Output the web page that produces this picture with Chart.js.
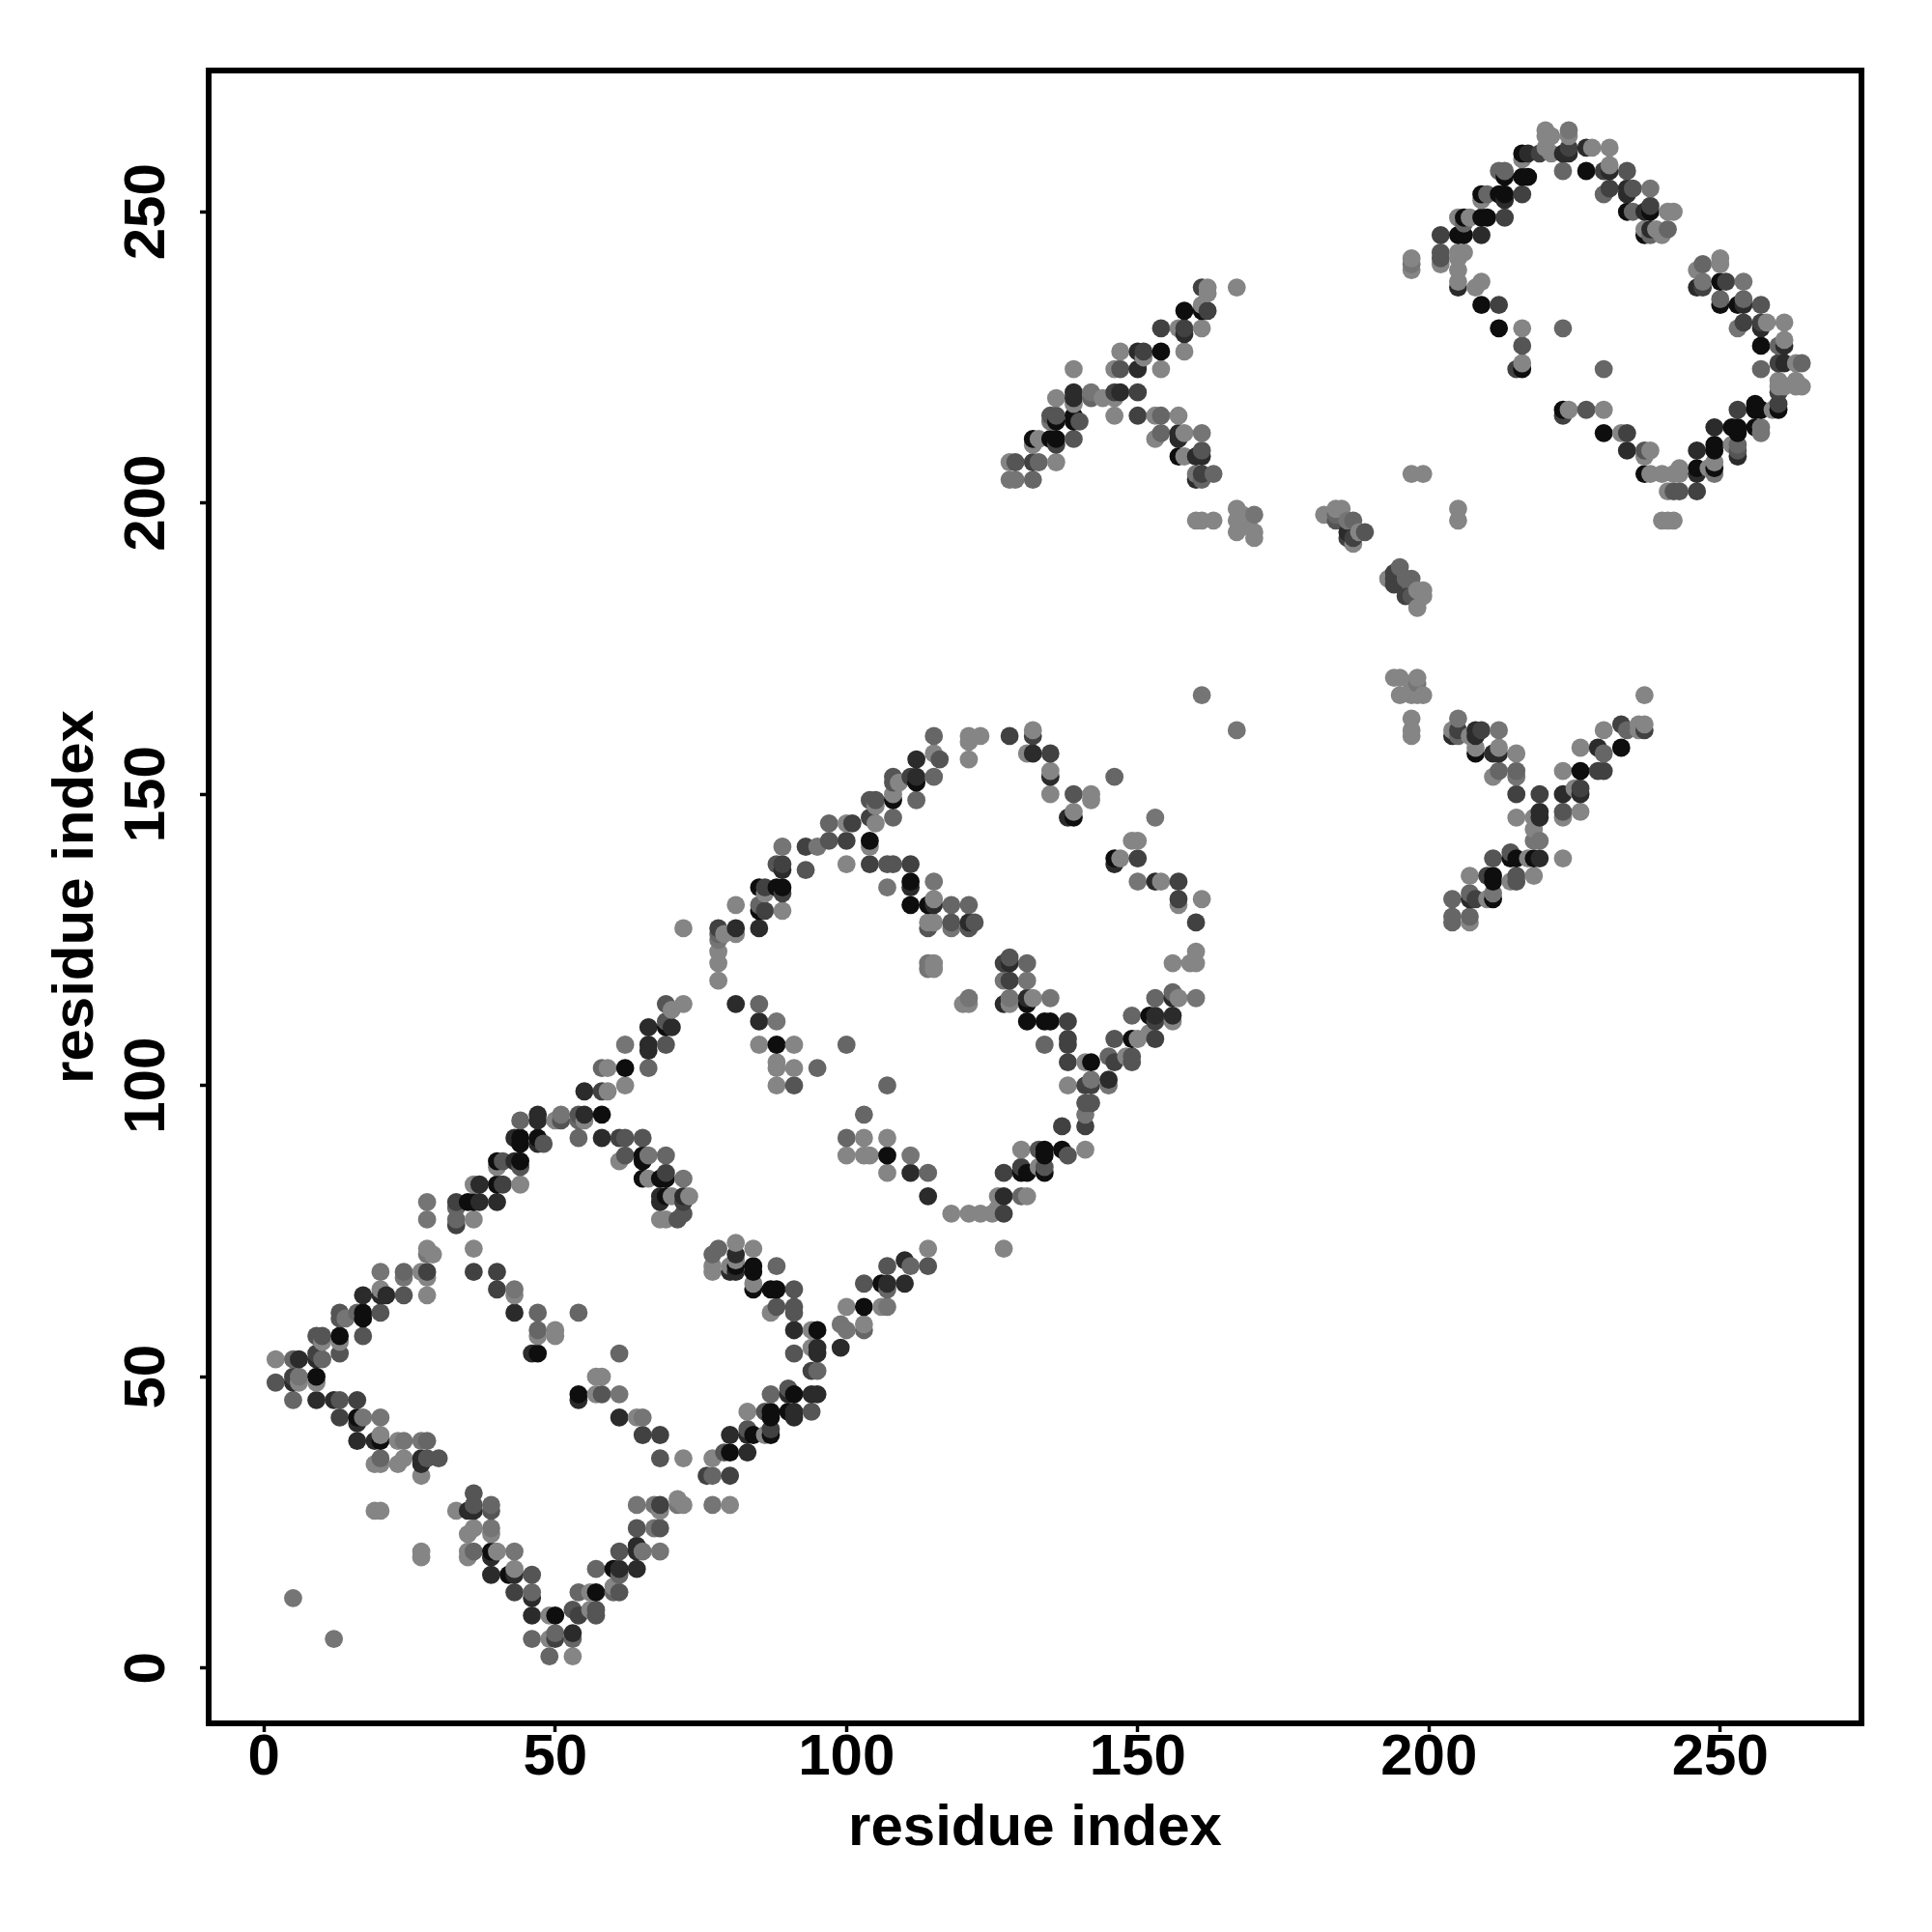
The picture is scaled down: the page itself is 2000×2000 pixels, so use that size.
<!DOCTYPE html>
<html>
<head>
<meta charset="utf-8">
<title>residue contact map</title>
<script src="https://cdn.jsdelivr.net/npm/chart.js@4"></script>
<style>
  html, body { margin: 0; padding: 0; background: #fff; }
  canvas { display: block; }
</style>
</head>
<body>
<canvas id="contactMap" width="2000" height="2000"></canvas>
<script>
// contacts as [residue x, residue y], one list per grey level
const contactsBlack = [
  [50,9],[57,13],[42,16],[60,17],[39,20],[20,39],[16,43],[9,50],[13,57],[17,61],[17,60],[54,47],[47,54],
  [62,103],[88,107],[69,110],[107,88],[106,66],[103,62],[131,114],[131,111],[134,111],[135,111],[137,89],
  [134,89],[134,88],[134,85],[130,85],[131,85],[69,84],[68,84],[65,84],[65,87],[65,88],[69,81],
  [81,69],[84,69],[84,68],[84,65],[87,65],[88,65],[95,58],[91,47],[87,44],[90,44],[87,43],[87,40],[84,40],
  [146,139],[139,146],[108,149],[112,152],[111,135],[111,131],[114,131],[85,130],[85,134],[88,134],[89,134],
  [104,142],[149,108],[142,104],[152,112],[158,233],[161,233],[154,226],[136,214],[139,215],[139,214],
  [132,211],[135,211],[136,211],[157,208],[208,157],[226,154],[233,158],[215,139],[214,139],[218,139],
  [211,136],[211,135],[211,132],[212,230],[209,234],[216,223],[223,216],[230,212],[237,205],[249,206],
  [249,210],[249,209],[252,213],[253,213],[253,212],[256,213],[256,217],[256,216],[257,216],[260,216],
  [246,206],[250,234],[253,234],[257,227],[250,238],[234,250],[238,250],[237,246],[227,257],[216,260],
  [213,256],[216,256],[217,256],[209,253],[212,253],[213,253],[206,249],[209,249],[210,249],[205,246],
  [206,246],[40,83],[40,87],[44,87],[44,91],[44,90],[47,91],[58,95],[35,80],[36,80],[80,37]
];
const contactsDark = [
  [53,6],[46,9],[46,12],[39,16],[43,16],[61,17],[64,17],[39,19],[64,21],[64,20],[35,27],[36,27],[27,35],
  [27,36],[16,39],[19,39],[16,42],[9,46],[12,46],[5,49],[6,53],[9,53],[17,64],[20,64],[21,64],[43,61],
  [46,54],[54,46],[61,43],[81,114],[85,111],[111,85],[114,81],[127,81],[110,70],[110,66],[107,66],
  [66,107],[66,106],[66,110],[70,110],[99,55],[95,55],[95,54],[94,47],[95,47],[80,68],[81,68],[81,71],
  [91,58],[68,81],[68,80],[72,81],[90,47],[132,157],[135,153],[138,146],[146,138],[112,153],[112,156],
  [81,127],[89,137],[145,101],[156,112],[153,112],[153,135],[115,131],[121,128],[150,226],[147,219],
  [139,219],[139,218],[150,223],[158,229],[160,204],[157,212],[157,211],[160,208],[161,208],[186,195],
  [208,161],[208,160],[207,132],[219,139],[219,147],[219,146],[223,150],[226,150],[229,158],[204,160],
  [211,157],[212,157],[205,237],[246,209],[246,205],[249,213],[209,246],[234,209],[231,257],[234,253],
  [234,254],[254,234],[246,237],[213,252],[223,260],[224,260],[227,261],[261,224],[253,208],[257,230],
  [261,227],[217,260],[37,83],[37,80],[43,87],[43,91],[47,95],[47,94],[47,90],[55,95],[55,99],[58,91],
  [40,80],[80,40],[83,37],[83,40],[91,43],[91,44],[111,134],[85,127],[128,121],[131,115],[127,114],
  [238,247],[237,250],[156,115]
];
const contactsDeep = [
  [50,5],[54,9],[43,13],[13,43],[16,46],[5,50],[9,54],[28,68],[36,68],[40,68],[40,65],[65,40],[68,40],
  [68,28],[76,33],[69,85],[127,78],[127,85],[130,86],[138,111],[138,108],[138,107],[137,93],[138,104],
  [72,80],[94,51],[128,118],[78,127],[86,130],[86,134],[89,133],[89,138],[93,141],[101,145],[100,142],
  [104,138],[111,138],[128,160],[132,160],[135,157],[150,139],[157,135],[157,132],[160,128],[146,104],
  [153,111],[153,108],[142,100],[141,100],[141,93],[104,146],[111,153],[161,237],[154,230],[158,230],
  [151,226],[162,233],[146,219],[150,219],[150,215],[132,207],[136,210],[161,205],[187,194],[194,188],
  [194,186],[205,161],[215,150],[219,150],[226,151],[229,154],[230,154],[233,162],[237,161],[210,136],
  [208,132],[202,246],[212,234],[216,253],[213,249],[215,223],[223,215],[234,212],[246,202],[253,216],
  [260,217],[260,219],[260,224],[254,231],[257,231],[231,254],[238,251],[247,237],[251,238],[230,257],
  [219,260],[33,80],[33,76],[41,83],[87,41],[80,33],[58,99],[61,91],[127,121],[186,194],[194,187],
  [196,184],[224,261],[209,161]
];
const contactsMid = [
  [53,10],[57,10],[57,9],[61,13],[46,16],[61,20],[64,24],[68,24],[36,28],[36,30],[39,27],[68,36],[28,36],
  [30,36],[13,46],[2,49],[13,54],[9,57],[10,57],[17,57],[13,61],[13,60],[20,61],[24,64],[58,47],[62,91],
  [65,91],[62,88],[91,100],[69,107],[69,114],[114,69],[107,69],[103,66],[88,62],[91,62],[91,61],[91,65],
  [91,54],[133,89],[138,88],[134,86],[71,77],[72,78],[86,44],[90,48],[94,44],[88,138],[93,137],[97,142],
  [105,149],[104,149],[108,153],[108,152],[107,138],[108,138],[114,127],[118,128],[139,150],[146,108],
  [142,97],[141,97],[149,105],[149,104],[116,156],[122,128],[121,127],[129,207],[139,211],[135,215],
  [136,215],[140,214],[147,223],[161,209],[184,197],[197,184],[214,140],[211,139],[215,136],[215,135],
  [223,147],[202,243],[202,242],[216,227],[227,216],[237,209],[242,202],[243,202],[253,209],[257,234],
  [235,254],[234,257],[54,95],[51,94],[41,87],[44,86],[48,90],[79,37],[83,41],[189,195],[128,122],[69,111]
];
const contactsGrey = [
  [49,2],[46,5],[50,6],[53,5],[46,13],[54,13],[60,13],[57,17],[61,16],[36,20],[39,28],[77,33],[20,36],
  [28,39],[5,46],[5,53],[10,53],[16,61],[24,68],[47,61],[54,61],[47,58],[61,54],[85,114],[66,103],[95,103],
  [100,107],[107,100],[103,95],[100,91],[69,88],[114,85],[111,69],[107,65],[103,58],[131,121],[130,81],
  [134,107],[77,71],[78,72],[88,69],[87,47],[95,51],[115,160],[146,153],[112,149],[108,146],[115,153],
  [97,145],[85,131],[118,131],[121,131],[156,116],[153,115],[149,112],[145,105],[154,215],[154,212],
  [133,207],[142,218],[132,204],[161,204],[163,205],[195,189],[197,187],[204,132],[204,129],[204,128],
  [207,133],[207,129],[212,154],[215,154],[205,160],[234,161],[230,157],[223,230],[230,223],[257,223],
  [264,224],[212,257],[213,257],[210,253],[206,248],[223,257],[230,253],[253,210],[260,227],[250,235],
  [254,235],[241,247],[238,246],[247,241],[44,94],[54,94],[54,91],[33,79],[33,77],[58,103],[184,198],
  [187,197],[196,187],[235,250],[78,126]
];
const contactsSoft = [
  [5,12],[12,5],[43,20],[65,20],[68,20],[39,24],[67,24],[64,28],[67,28],[71,28],[77,28],[24,39],[27,39],
  [17,43],[20,43],[6,50],[14,60],[20,68],[24,67],[28,71],[43,65],[61,47],[65,43],[88,111],[111,88],[62,107],
  [66,88],[72,84],[99,59],[100,58],[107,62],[128,115],[127,118],[131,118],[135,115],[121,115],[107,134],
  [115,135],[118,127],[114,121],[114,120],[153,146],[150,135],[160,115],[145,100],[141,95],[142,101],[89,141],
  [95,141],[78,125],[142,219],[128,204],[129,204],[135,214],[160,205],[161,212],[170,198],[205,163],[212,161],
  [219,142],[218,142],[198,169],[215,153],[197,241],[257,213],[257,212],[253,230],[238,254],[247,238],[254,238],
  [28,80],[28,77],[51,95],[211,133],[249,205],[161,167],[167,161],[186,197],[224,264]
];
const contactsLight = [
  [53,2],[49,5],[49,9],[56,10],[56,13],[60,14],[43,17],[35,19],[35,20],[40,20],[27,20],[27,19],[35,23],[36,24],
  [39,23],[33,27],[68,27],[71,29],[72,28],[80,28],[77,36],[72,36],[19,27],[20,27],[27,33],[19,35],[20,35],[23,35],
  [24,36],[20,40],[23,39],[6,49],[9,49],[2,53],[10,56],[13,56],[20,65],[28,64],[27,68],[28,67],[29,71],[28,72],
  [36,72],[43,64],[47,57],[50,58],[50,57],[57,50],[58,50],[57,47],[64,43],[78,118],[72,114],[70,113],[85,107],
  [91,107],[88,104],[88,103],[91,103],[88,100],[62,100],[103,91],[107,91],[100,88],[103,88],[104,88],[107,85],
  [118,78],[121,78],[123,78],[125,78],[126,81],[126,79],[114,72],[127,72],[100,62],[106,62],[103,59],[130,89],
  [133,86],[131,81],[141,89],[138,100],[132,115],[128,114],[120,114],[121,114],[115,120],[81,73],[81,70],[77,69],
  [77,68],[80,69],[84,72],[84,66],[94,58],[94,55],[86,40],[87,61],[83,44],[66,84],[73,81],[68,77],[69,77],[70,81],
  [72,127],[79,126],[81,126],[78,123],[78,121],[81,131],[89,130],[86,133],[121,160],[121,159],[123,160],[121,156],
  [132,161],[131,157],[135,154],[135,150],[142,150],[142,149],[139,147],[149,142],[150,142],[147,139],[154,135],
  [157,131],[161,132],[160,123],[156,121],[159,121],[160,121],[157,115],[156,111],[150,108],[152,109],[141,104],
  [148,105],[115,157],[115,132],[114,128],[115,128],[115,121],[100,145],[105,145],[100,138],[104,141],[108,150],
  [109,152],[105,148],[167,237],[162,237],[162,236],[161,234],[157,230],[161,230],[147,226],[151,225],[158,226],
  [139,223],[146,223],[154,223],[136,218],[144,218],[146,218],[139,217],[146,215],[153,215],[157,215],[133,211],
  [132,210],[153,211],[158,212],[158,208],[128,207],[136,207],[160,197],[161,197],[163,197],[167,199],[167,197],
  [167,195],[168,198],[170,195],[170,194],[168,196],[182,198],[184,199],[185,199],[187,193],[188,195],[197,205],
  [199,205],[205,199],[205,197],[197,240],[197,242],[193,187],[199,185],[199,184],[198,185],[198,182],[194,170],
  [195,170],[198,170],[195,167],[197,167],[197,169],[199,167],[198,167],[197,163],[197,161],[197,160],[204,161],
  [207,160],[208,158],[212,158],[215,157],[211,153],[225,151],[215,146],[218,146],[226,147],[218,144],[223,146],
  [223,139],[217,139],[218,136],[214,135],[207,136],[207,128],[210,132],[223,154],[226,158],[230,161],[236,162],
  [237,162],[236,161],[237,167],[202,241],[205,243],[206,243],[205,242],[205,240],[205,238],[208,237],[209,238],
  [216,230],[216,224],[224,216],[230,216],[233,212],[238,209],[237,208],[238,205],[240,205],[242,205],[243,206],
  [243,205],[241,202],[249,207],[248,206],[252,210],[259,216],[260,220],[260,221],[261,220],[263,221],[264,220],
  [263,220],[263,224],[261,228],[258,231],[261,231],[246,240],[250,242],[250,241],[237,247],[239,247],[240,246],
  [241,250],[242,250],[231,258],[228,261],[231,261],[224,263],[220,264],[220,263],[221,263],[220,261],[221,260],
  [216,259],[209,252],[205,249],[207,249],[241,197],[240,197],[242,197],[36,77],[36,83],[44,83],[40,86],[50,94],
  [55,94],[59,99],[61,87],[59,103]
];

const axisTicks = [0, 50, 100, 150, 200, 250];
const axisTitle = 'residue index';

const greyLevels = [
  { points: contactsBlack, color: '#0e0e0e' },
  { points: contactsDark, color: '#2b2b2b' },
  { points: contactsDeep, color: '#414141' },
  { points: contactsMid, color: '#555555' },
  { points: contactsGrey, color: '#666666' },
  { points: contactsSoft, color: '#757575' },
  { points: contactsLight, color: '#858585' }
];

// the original plots in residue order, so later residues sit on top
const allContacts = [];
greyLevels.forEach(function (level) {
  level.points.forEach(function (p) {
    allContacts.push({ x: p[0], y: p[1], color: level.color });
  });
});
allContacts.sort(function (a, b) { return a.x - b.x || a.y - b.y; });

const fontFamily = '"Liberation Sans", Arial, sans-serif';

// box round the plot, all four sides
const framePlugin = {
  id: 'frame',
  afterDatasetsDraw(chart) {
    const { ctx, chartArea: a } = chart;
    ctx.save();
    ctx.strokeStyle = '#000';
    ctx.lineWidth = 6;
    ctx.lineJoin = 'miter';
    ctx.strokeRect(a.left, a.top, a.right - a.left, a.bottom - a.top);
    ctx.restore();
  }
};

function fixedTicks(scale) {
  scale.ticks = axisTicks.map(function (v) { return { value: v }; });
}

const gridOptions = {
  drawOnChartArea: false,
  drawTicks: true,
  tickLength: 9,
  tickWidth: 3.5,
  tickColor: '#000'
};

new Chart(document.getElementById('contactMap').getContext('2d'), {
  type: 'scatter',
  data: {
    datasets: [{
      label: 'contacts',
      data: allContacts.map(function (c) { return { x: c.x, y: c.y }; }),
      pointBackgroundColor: allContacts.map(function (c) { return c.color; }),
      pointBorderWidth: 0,
      pointRadius: 9.4,
      pointHoverRadius: 9.4
    }]
  },
  options: {
    responsive: false,
    animation: false,
    layout: { padding: { top: 73, right: 73, left: 0, bottom: 0 } },
    plugins: { legend: { display: false }, tooltip: { enabled: false } },
    scales: {
      x: {
        type: 'linear',
        min: -9.5,
        max: 274.25,
        afterBuildTicks: fixedTicks,
        afterFit(scale) { scale.height = 216; },
        border: { display: false },
        grid: gridOptions,
        ticks: {
          autoSkip: false,
          maxRotation: 0,
          padding: -9,
          color: '#000',
          font: { family: fontFamily, size: 60, weight: 'bold' }
        },
        title: {
          display: true,
          text: axisTitle,
          color: '#000',
          font: { family: fontFamily, size: 60, weight: 'bold' },
          padding: { top: 0, bottom: 71 }
        }
      },
      y: {
        type: 'linear',
        min: -9.5,
        max: 274.25,
        afterBuildTicks: fixedTicks,
        afterFit(scale) { scale.width = 216; },
        border: { display: false },
        grid: gridOptions,
        ticks: {
          autoSkip: false,
          minRotation: 90,
          maxRotation: 90,
          crossAlign: 'center',
          padding: 3,
          color: '#000',
          font: { family: fontFamily, size: 60, weight: 'bold' }
        },
        title: {
          display: true,
          text: axisTitle,
          color: '#000',
          font: { family: fontFamily, size: 60, weight: 'bold' },
          padding: { top: 43, bottom: 0 }
        }
      }
    }
  },
  plugins: [framePlugin]
});
</script>
</body>
</html>
